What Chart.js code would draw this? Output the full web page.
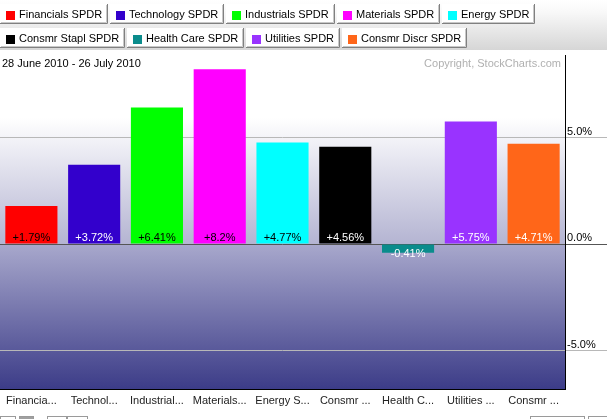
<!DOCTYPE html>
<html>
<head>
<meta charset="utf-8">
<script src="https://cdn.jsdelivr.net/npm/chart.js@4"></script>
<style>
  html, body { margin: 0; padding: 0; background: #fff; }
  #wrap { width: 607px; height: 419px; position: relative; }
</style>
</head>
<body>
<div id="wrap"><canvas id="chart"></canvas></div>
<script>
const sectors = ['Financials SPDR', 'Technology SPDR', 'Industrials SPDR', 'Materials SPDR', 'Energy SPDR',
  'Consmr Stapl SPDR', 'Health Care SPDR', 'Utilities SPDR', 'Consmr Discr SPDR']
const tickLabels = ['Financia...', 'Technol...', 'Industrial...', 'Materials...', 'Energy S...',
  'Consmr ...', 'Health C...', 'Utilities ...', 'Consmr ...']
const changes = [1.79, 3.72, 6.41, 8.2, 4.77, 4.56, -0.41, 5.75, 4.71]
const colors = ['#ff0000', '#3300cc', '#00ff00', '#ff00ff', '#00ffff', '#000000', '#0a8c8c', '#9933ff', '#ff6619']
const textColors = ['#000', '#fff', '#000', '#000', '#000', '#fff', '#fff', '#fff', '#fff']
const yTicks = [-5, 0, 5]
const dateRange = '28 June 2010 - 26 July 2010'
const copyright = 'Copyright, StockCharts.com'

const FONT = '11px "Liberation Sans", Arial, sans-serif'

// legend buttons, page header and plot background
const decor = {
  id: 'decor',
  beforeDraw(chart) {
    const { ctx, chartArea: a, scales } = chart
    const W = chart.width
    ctx.save()
    // header band
    let g = ctx.createLinearGradient(0, 0, 0, 50)
    g.addColorStop(0, '#ffffff')
    g.addColorStop(0.25, '#f8f8f8')
    g.addColorStop(1, '#d6d6d6')
    ctx.fillStyle = g
    ctx.fillRect(0, 0, W, 50)

    // buttons
    ctx.font = FONT
    ctx.textBaseline = 'middle'
    const rows = [[0, 5], [5, 9]]
    rows.forEach(([s, e], r) => {
      let x = 0
      const top = 4 + r * 24
      for (let i = s; i < e; i++) {
        const w = Math.round(19 + ctx.measureText(sectors[i]).width + 6)
        ctx.fillStyle = '#fff'
        ctx.fillRect(x, top, w, 20)
        ctx.strokeStyle = '#808080'
        ctx.lineWidth = 1
        ctx.beginPath()
        ctx.moveTo(x + w - 0.5, top)
        ctx.lineTo(x + w - 0.5, top + 19.5)
        ctx.lineTo(x, top + 19.5)
        ctx.stroke()
        ctx.strokeStyle = '#c8c8c8'
        ctx.beginPath()
        ctx.moveTo(x + w - 1.5, top + 1)
        ctx.lineTo(x + w - 1.5, top + 18.5)
        ctx.lineTo(x + 1, top + 18.5)
        ctx.stroke()
        ctx.fillStyle = colors[i]
        ctx.fillRect(x + 6, top + 7, 9, 9)
        ctx.fillStyle = '#000'
        ctx.textAlign = 'left'
        ctx.fillText(sectors[i], x + 19, top + 11)
        x += w + 2
      }
    })

    // plot background
    const zero = scales.y.getPixelForValue(0)
    g = ctx.createLinearGradient(0, a.top, 0, zero)
    const fadeStart = Math.max(0, (118 - a.top) / (zero - a.top))
    g.addColorStop(0, '#ffffff')
    g.addColorStop(fadeStart, '#ffffff')
    g.addColorStop(1, '#b4b4d2')
    ctx.fillStyle = g
    ctx.fillRect(a.left, a.top, a.width, zero - a.top)
    g = ctx.createLinearGradient(0, zero, 0, a.bottom)
    g.addColorStop(0, '#a8a8cc')
    g.addColorStop(1, '#3c3c88')
    ctx.fillStyle = g
    ctx.fillRect(a.left, zero, a.width, a.bottom - zero)

    // header texts
    ctx.fillStyle = '#000'
    ctx.textAlign = 'left'
    ctx.fillText(dateRange, 2, 64)
    ctx.fillStyle = '#b0b0b0'
    ctx.textAlign = 'right'
    ctx.fillText(copyright, a.right - 4, 64)
    ctx.restore()
  },
  afterDraw(chart) {
    const { ctx } = chart
    ctx.save()
    // partially visible controls at the bottom edge
    ctx.strokeStyle = '#9a9a9a'
    ctx.lineWidth = 1
    ;[[0, 15], [47, 19], [67, 20], [530, 54], [588, 19]].forEach(([x, w]) => {
      ctx.strokeRect(x + 0.5, 416.5, w, 6)
    })
    ctx.fillStyle = '#a0a0a0'
    ctx.fillRect(20, 417, 13, 3)
    ctx.strokeRect(19.5, 416.5, 14, 6)
    ctx.restore()
  }
}

// value labels at the base of each bar
const valueLabels = {
  id: 'valueLabels',
  afterDatasetsDraw(chart) {
    const { ctx, scales } = chart
    const zero = scales.y.getPixelForValue(0)
    const meta = chart.getDatasetMeta(0)
    ctx.save()
    ctx.font = FONT
    ctx.textAlign = 'center'
    ctx.textBaseline = 'middle'
    meta.data.forEach((bar, i) => {
      const v = changes[i]
      const txt = (v >= 0 ? '+' : '') + v + '%'
      ctx.fillStyle = textColors[i]
      ctx.fillText(txt, bar.x, v >= 0 ? zero - 6 : zero + 10)
    })
    ctx.restore()
  }
}

const chart = new Chart(document.getElementById('chart'), {
  type: 'bar',
  data: {
    labels: tickLabels,
    datasets: [{
      data: changes,
      backgroundColor: colors,
      barPercentage: 0.83,
      categoryPercentage: 1
    }]
  },
  options: {
    responsive: true,
    maintainAspectRatio: false,
    animation: false,
    layout: { padding: { top: 55, left: 0, right: 0, bottom: 0 } },
    plugins: { legend: { display: false }, tooltip: { enabled: false } },
    scales: {
      x: {
        grid: { display: false },
        border: { display: true, color: '#000', width: 1 },
        ticks: {
          color: '#222',
          font: { family: '"Liberation Sans", Arial, sans-serif', size: 11 },
          padding: -3,
          maxRotation: 0,
          autoSkip: false
        },
        afterFit(scale) { scale.height = 30 }
      },
      y: {
        position: 'right',
        min: -6.8,
        max: 8.87,
        afterBuildTicks(scale) { scale.ticks = yTicks.map(v => ({ value: v })) },
        afterFit(scale) { scale.width = 42 },
        border: { display: true, color: '#000', width: 1 },
        grid: {
          tickLength: 42,
          lineWidth: 1,
          color: c => (c.tick && c.tick.value === 0 ? '#555555' : '#b8b8b8')
        },
        ticks: {
          color: '#000',
          font: { family: '"Liberation Sans", Arial, sans-serif', size: 11 },
          crossAlign: 'near',
          padding: -40,
          labelOffset: -6,
          callback: v => v.toFixed(1) + '%'
        }
      }
    }
  },
  plugins: [decor, valueLabels]
})
</script>
</body>
</html>
